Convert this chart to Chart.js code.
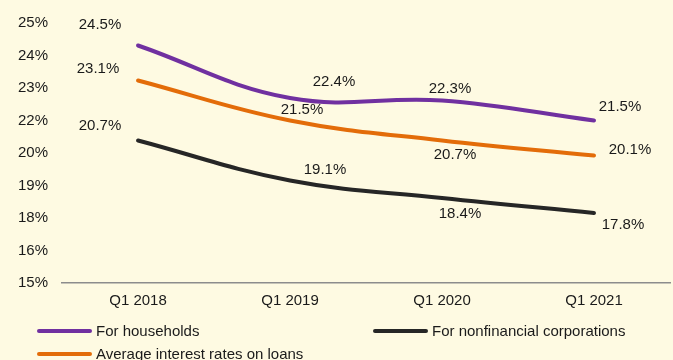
<!DOCTYPE html>
<html>
<head>
<meta charset="utf-8">
<script src="https://cdn.jsdelivr.net/npm/chart.js@4"></script>
<style>
    html, body { margin: 0; padding: 0; background: #fefae2; }
    #wrap { position: relative; width: 673px; height: 360px; }
    #legend {
        position: absolute; left: 37px; top: 319px;
        display: grid; grid-template-columns: 336px auto; grid-auto-rows: 23px;
        font: 15px "Liberation Sans", Arial, sans-serif; color: #1a1a1a;
    }
    .item { display: flex; align-items: center; white-space: nowrap; }
    .swatch { width: 55px; height: 4px; border-radius: 2px; margin-right: 4px; }
</style>
</head>
<body>
<div id="wrap">
    <canvas id="rateChart" width="673" height="360"></canvas>
    <div id="legend"></div>
</div>
<script>
// Quarters and loan rates, %
const quarters = ['Q1 2018', 'Q1 2019', 'Q1 2020', 'Q1 2021'];
const households = [24.5, 22.4, 22.3, 21.5];
const corporations = [20.7, 19.1, 18.4, 17.8];
const averageRate = [23.1, 21.5, 20.7, 20.1];
const yTickLabels = ['15%', '16%', '18%', '19%', '20%', '22%', '23%', '24%', '25%'];

// where each value label sits relative to its point (px)
const labelOffsets = [
    [[-38, -21], [44, -16], [8, -12], [26, -14]],
    [[-38, -15], [35, -11], [18, 16], [29, 12]],
    [[-40, -12], [12, -11], [13, 14], [36, -6]]
];

const FONT = '"Liberation Sans", Arial, sans-serif';

const valueLabels = {
    id: 'valueLabels',
    afterDatasetsDraw(chart) {
        const ctx = chart.ctx;
        ctx.save();
        ctx.font = '15px ' + FONT;
        ctx.fillStyle = '#1a1a1a';
        ctx.textAlign = 'center';
        ctx.textBaseline = 'middle';
        chart.data.datasets.forEach((ds, i) => {
            chart.getDatasetMeta(i).data.forEach((pt, j) => {
                const [dx, dy] = labelOffsets[i][j];
                ctx.fillText(ds.data[j].toFixed(1) + '%', pt.x + dx, pt.y + dy);
            });
        });
        ctx.restore();
    }
};

const series = [
    { label: 'For households', data: households, color: '#7030a0' },
    { label: 'For nonfinancial corporations', data: corporations, color: '#262626' },
    { label: 'Average interest rates on loans', data: averageRate, color: '#e36c09' }
];

const chart = new Chart(document.getElementById('rateChart'), {
    type: 'line',
    data: {
        labels: quarters,
        datasets: series.map(s => ({
            label: s.label,
            data: s.data,
            borderColor: s.color,
            backgroundColor: s.color,
            borderWidth: 4,
            borderCapStyle: 'round',
            tension: 0.4,
            pointRadius: 0,
            fill: false
        }))
    },
    options: {
        responsive: false,
        animation: false,
        layout: { padding: { left: 4, right: 3, top: 21, bottom: 41 } },
        plugins: {
            legend: { display: false },
            tooltip: { enabled: false }
        },
        scales: {
            x: {
                offset: true,
                grid: { display: false, drawTicks: false },
                border: { display: true, color: '#8c8c8c', width: 1.5 },
                ticks: { padding: 9, color: '#1a1a1a', font: { family: FONT, size: 15 } }
            },
            y: {
                min: 15,
                max: 25.4,
                grid: { display: false, drawTicks: false },
                border: { display: false },
                ticks: {
                    stepSize: 1.3,
                    padding: 14,
                    color: '#1a1a1a',
                    font: { family: FONT, size: 15 },
                    callback: (v, i) => yTickLabels[i]
                }
            }
        }
    },
    plugins: [valueLabels]
});

// legend laid out in two columns under the plot
const legend = document.getElementById('legend');
series.forEach(s => {
    const item = document.createElement('div');
    item.className = 'item';
    item.innerHTML = `<span class="swatch" style="background:${s.color}"></span>${s.label}`;
    legend.appendChild(item);
});
</script>
</body>
</html>
